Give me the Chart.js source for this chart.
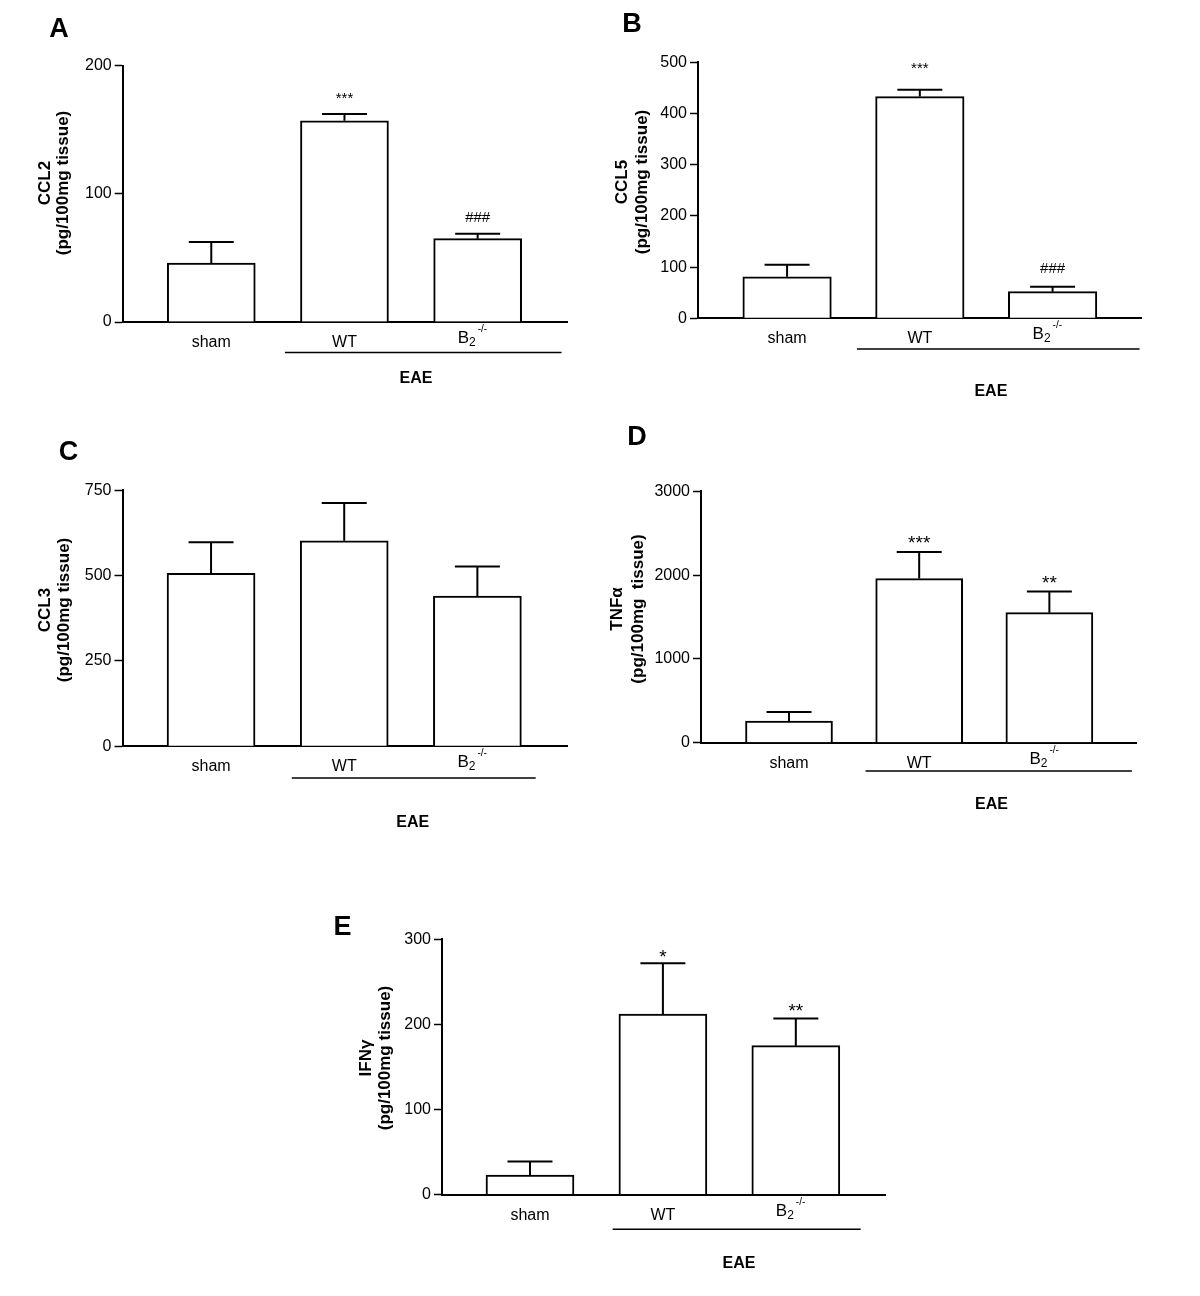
<!DOCTYPE html>
<html>
<head>
<meta charset="utf-8">
<script src="https://cdn.jsdelivr.net/npm/chart.js@4.4.1/dist/chart.umd.min.js"></script>
<style>
  html, body { margin: 0; padding: 0; background: #fff; }
  #fig { position: relative; width: 1200px; height: 1296px; background: #fff; }
  #fig canvas { position: absolute; }
</style>
</head>
<body>
<div id="fig">
  <canvas id="chartA" width="600" height="420" style="left:0;top:0"></canvas>
  <canvas id="chartB" width="600" height="420" style="left:600px;top:0"></canvas>
  <canvas id="chartC" width="600" height="440" style="left:0;top:420px"></canvas>
  <canvas id="chartD" width="600" height="440" style="left:600px;top:420px"></canvas>
  <canvas id="chartE" width="600" height="416" style="left:300px;top:880px"></canvas>
</div>
<script>
// groups on the x axis (B2 is drawn as B with subscript 2 and superscript -/-)
const groups = ['sham', 'WT', 'B2'];

// CCL2 (A)
const ccl2Mean = [46, 157, 65];
const ccl2Sem = [16.5, 5.4, 3.9];
const ccl2Sig = ['', '***', '###'];
const ccl2Ticks = [0, 100, 200];

// CCL5 (B)
const ccl5Mean = [81, 433, 52];
const ccl5Sem = [23.5, 13.5, 9.7];
const ccl5Sig = ['', '***', '###'];
const ccl5Ticks = [0, 100, 200, 300, 400, 500];

// CCL3 (C)
const ccl3Mean = [507, 602, 440];
const ccl3Sem = [91, 111, 87];
const ccl3Sig = ['', '', ''];
const ccl3Ticks = [0, 250, 500, 750];

// TNFa (D)
const tnfMean = [259, 1958, 1552];
const tnfSem = [107, 318, 251];
const tnfSig = ['', '***', '**'];
const tnfTicks = [0, 1000, 2000, 3000];

// IFNg (E)
const ifnMean = [23, 212, 175];
const ifnSem = [16, 60, 32];
const ifnSig = ['', '*', '**'];
const ifnTicks = [0, 100, 200, 300];

const FONT = '"Liberation Sans", Arial, Helvetica, sans-serif';

const panels = [
  { id: 'chartA', letter: 'A', mean: ccl2Mean, sem: ccl2Sem, sig: ccl2Sig, ticks: ccl2Ticks,
    title: ['CCL2', '(pg/100mg tissue)'],
    axisX: 122.7, padRight: 32.7, padTop: 65.7, padBottom: 98, xMin: 0.335, xMax: 3.673, bar: 88,
    sigFont: 15, sigGap: [0, 17.5, 17], titleX: [45, 63], titleY: 183, letterXY: [59, 30],
    line: [1.553, 3.63], lineDy: 30.5, eaeX: 2.537, eaeDy: 61.3 },
  { id: 'chartB', letter: 'B', mean: ccl5Mean, sem: ccl5Sem, sig: ccl5Sig, ticks: ccl5Ticks,
    title: ['CCL5', '(pg/100mg tissue)'],
    axisX: 98, padRight: 59, padTop: 62.3, padBottom: 101.7, xMin: 0.329, xMax: 3.666, bar: 88.5,
    sigFont: 15, sigGap: [0, 24, 18.4], titleX: [22, 42], titleY: 182, letterXY: [32, 25],
    line: [1.526, 3.655], lineDy: 30.7, eaeX: 2.535, eaeDy: 77.7 },
  { id: 'chartC', letter: 'C', mean: ccl3Mean, sem: ccl3Sem, sig: ccl3Sig, ticks: ccl3Ticks,
    title: ['CCL3', '(pg/100mg tissue)'],
    axisX: 122.5, padRight: 33, padTop: 70.3, padBottom: 113.7, xMin: 0.335, xMax: 3.673, bar: 88,
    sigFont: 15, sigGap: [0, 0, 0], titleX: [45, 64], titleY: 190, letterXY: [68.6, 33],
    line: [1.606, 3.438], lineDy: 31.7, eaeX: 2.514, eaeDy: 81 },
  { id: 'chartD', letter: 'D', mean: tnfMean, sem: tnfSem, sig: tnfSig, ticks: tnfTicks,
    title: ['TNF\u03b1', '(pg/100mg  tissue)'],
    axisX: 101, padRight: 63.4, padTop: 71.3, padBottom: 117.3, xMin: 0.324, xMax: 3.67, bar: 87,
    sigFont: 19, sigGap: [0, 12, 11.7], titleX: [17, 38], titleY: 189, letterXY: [37, 18],
    line: [1.588, 3.634], lineDy: 28.3, eaeX: 2.555, eaeDy: 66.6 },
  { id: 'chartE', letter: 'E', mean: ifnMean, sem: ifnSem, sig: ifnSig, ticks: ifnTicks,
    title: ['IFN\u03b3', '(pg/100mg tissue)'],
    axisX: 142, padRight: 15, padTop: 59.3, padBottom: 101.4, xMin: 0.338, xMax: 3.671, bar: 88,
    sigFont: 19, sigGap: [0, 10, 11.4], titleX: [66, 85.5], titleY: 178, letterXY: [42.5, 48],
    line: [1.622, 3.488], lineDy: 34.7, eaeX: 2.573, eaeDy: 73 }
];

// error bars, stars, group labels, EAE bracket, axis title and panel letter
const figurePlugin = {
  id: 'figure',
  afterDatasetsDraw(chart, args, opts) {
    const p = opts.panel;
    const { ctx } = chart;
    const x = chart.scales.x;
    const y = chart.scales.y;
    const zero = y.getPixelForValue(0);

    ctx.save();
    ctx.strokeStyle = '#000';
    ctx.fillStyle = '#000';
    ctx.lineWidth = 2;

    p.mean.forEach((m, i) => {
      const cx = x.getPixelForValue(i + 1);
      const top = y.getPixelForValue(m);
      const cap = y.getPixelForValue(m + p.sem[i]);
      ctx.beginPath();
      ctx.moveTo(cx, top);
      ctx.lineTo(cx, cap);
      ctx.moveTo(cx - 22.5, cap);
      ctx.lineTo(cx + 22.5, cap);
      ctx.stroke();

      if (p.sig[i]) {
        ctx.font = `${p.sigFont}px ${FONT}`;
        ctx.textAlign = 'center';
        ctx.textBaseline = 'alphabetic';
        const tm = ctx.measureText(p.sig[i]);
        const base = cap - p.sigGap[i] + (tm.actualBoundingBoxAscent - tm.actualBoundingBoxDescent) / 2;
        ctx.fillText(p.sig[i], cx, base);
      }
    });

    // category labels
    ctx.textBaseline = 'alphabetic';
    groups.forEach((g, i) => {
      const cx = x.getPixelForValue(i + 1);
      if (g === 'B2') {
        const x0 = cx - 20;
        ctx.textAlign = 'left';
        ctx.font = `17px ${FONT}`;
        ctx.fillText('B', x0, zero + 21);
        const wB = ctx.measureText('B').width;
        ctx.font = `12px ${FONT}`;
        ctx.fillText('2', x0 + wB, zero + 24);
        const w2 = ctx.measureText('2').width;
        ctx.font = `10px ${FONT}`;
        ctx.fillText('-/-', x0 + wB + w2 + 2, zero + 10);
      } else {
        ctx.textAlign = 'center';
        ctx.font = `16px ${FONT}`;
        ctx.fillText(g, cx, zero + 25);
      }
    });

    // EAE bracket
    ctx.lineWidth = 1.5;
    ctx.beginPath();
    ctx.moveTo(x.getPixelForValue(p.line[0]), zero + p.lineDy);
    ctx.lineTo(x.getPixelForValue(p.line[1]), zero + p.lineDy);
    ctx.stroke();
    ctx.textAlign = 'center';
    ctx.font = `bold 16px ${FONT}`;
    ctx.fillText('EAE', x.getPixelForValue(p.eaeX), zero + p.eaeDy);

    // y axis title, two rotated lines
    ctx.save();
    ctx.translate(0, p.titleY);
    ctx.rotate(-Math.PI / 2);
    ctx.font = `bold 17px ${FONT}`;
    ctx.textAlign = 'center';
    ctx.textBaseline = 'middle';
    p.title.forEach((t, k) => ctx.fillText(t, 0, p.titleX[k]));
    ctx.restore();

    // panel letter
    ctx.font = `bold 27px ${FONT}`;
    ctx.textAlign = 'center';
    ctx.textBaseline = 'middle';
    ctx.fillText(p.letter, p.letterXY[0], p.letterXY[1]);

    ctx.restore();
  }
};

function makePanel(p) {
  const el = document.getElementById(p.id);
  return new Chart(el, {
    type: 'bar',
    data: {
      datasets: [{
        data: p.mean.map((v, i) => ({ x: i + 1, y: v })),
        backgroundColor: '#fff',
        borderColor: '#000',
        borderWidth: 2,
        barThickness: p.bar
      }]
    },
    options: {
      responsive: false,
      animation: false,
      layout: { padding: { left: 0, right: p.padRight, top: p.padTop, bottom: p.padBottom } },
      plugins: {
        legend: { display: false },
        tooltip: { enabled: false },
        figure: { panel: p }
      },
      scales: {
        x: {
          type: 'linear',
          offset: false,
          min: p.xMin,
          max: p.xMax,
          ticks: { display: false },
          grid: { display: false, offset: false },
          border: { display: true, color: '#000', width: 2 },
          afterFit(scale) { scale.height = 0; }
        },
        y: {
          min: p.ticks[0],
          max: p.ticks[p.ticks.length - 1],
          afterBuildTicks(scale) { scale.ticks = p.ticks.map(v => ({ value: v })); },
          ticks: { color: '#000', font: { family: FONT, size: 16 }, padding: 3, callback: v => String(v) },
          grid: { drawOnChartArea: false, drawTicks: true, tickLength: 8, tickColor: '#000', tickWidth: 1.5 },
          border: { display: true, color: '#000', width: 2 },
          afterFit(scale) { scale.width = p.axisX; }
        }
      }
    },
    plugins: [figurePlugin]
  });
}

panels.forEach(makePanel);
</script>
</body>
</html>
